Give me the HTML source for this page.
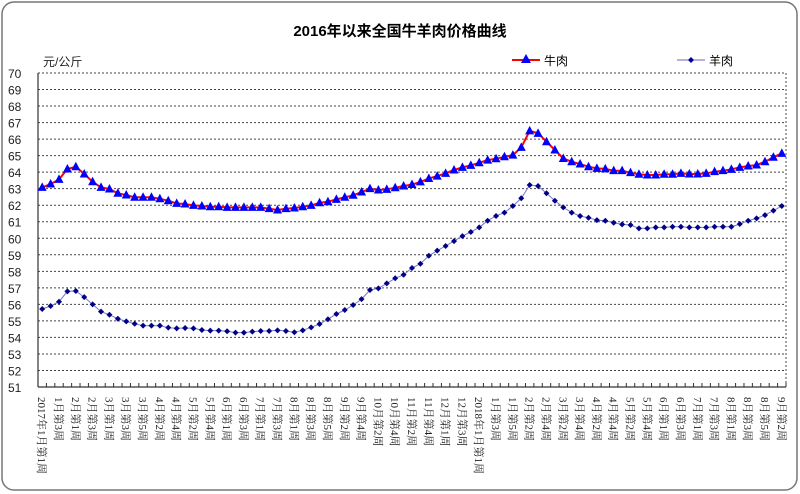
<!DOCTYPE html>
<html><head><meta charset="utf-8">
<style>
html,body{margin:0;padding:0;background:#fff;}
svg{display:block;font-family:"Liberation Sans","Noto Sans CJK SC",sans-serif;}
</style></head>
<body>
<svg id="chart" width="800" height="494" viewBox="0 0 800 494">
<rect x="2" y="2" width="795" height="488" rx="12" fill="#fff" stroke="#777" stroke-width="1.5"/>
<text x="400" y="36" text-anchor="middle" font-size="15" font-weight="bold" fill="#000">2016年以来全国牛羊肉价格曲线</text>
<text x="43" y="66" font-size="12" fill="#222">元/公斤</text>
<g>
<g>
<line x1="512" y1="60" x2="540" y2="60" stroke="#f00" stroke-width="2"/>
<polygon points="526,54 531,63 521,63" fill="#00f"/>
<text x="544" y="65" font-size="12" fill="#000">牛肉</text>
</g>
<g>
<line x1="677" y1="60" x2="705" y2="60" stroke="#66c" stroke-width="1"/>
<polygon points="691,57 694,60 691,63 688,60" fill="#009"/>
<text x="709" y="65" font-size="12" fill="#000">羊肉</text>
</g>
</g>
<g id="grid"></g>
<g id="axes"></g>
<g id="series"></g>
</svg>
<script>
const categories = ["2017年1月第1周","","1月第3周","","2月第1周","","2月第3周","","3月第1周","","3月第3周","","3月第5周","","4月第2周","","4月第4周","","5月第2周","","5月第4周","","6月第1周","","6月第3周","","7月第1周","","7月第3周","","8月第1周","","8月第3周","","8月第5周","","9月第2周","","9月第4周","","10月第2周","","10月第4周","","11月第2周","","11月第4周","","12月第1周","","12月第3周","","2018年1月第1周","","1月第3周","","1月第5周","","2月第2周","","2月第4周","","3月第2周","","3月第4周","","4月第2周","","4月第4周","","5月第2周","","5月第4周","","6月第1周","","6月第3周","","7月第1周","","7月第3周","","8月第1周","","8月第3周","","8月第5周","","9月第2周"];
const beef = [63.08,63.28,63.56,64.19,64.33,63.89,63.42,63.08,62.98,62.72,62.62,62.48,62.48,62.48,62.39,62.27,62.11,62.07,61.99,61.95,61.91,61.91,61.87,61.87,61.87,61.87,61.87,61.79,61.71,61.79,61.83,61.91,61.99,62.15,62.21,62.35,62.48,62.6,62.8,63.0,62.92,62.96,63.06,63.16,63.25,63.41,63.62,63.76,63.93,64.13,64.29,64.41,64.57,64.73,64.81,64.93,65.03,65.5,66.5,66.35,65.84,65.34,64.83,64.63,64.49,64.33,64.23,64.2,64.09,64.09,63.97,63.87,63.83,63.83,63.87,63.87,63.93,63.89,63.89,63.93,64.03,64.09,64.17,64.29,64.37,64.43,64.63,64.9,65.14];
const mutton = [55.72,55.9,56.16,56.79,56.81,56.44,56.0,55.56,55.37,55.13,54.97,54.83,54.71,54.71,54.71,54.59,54.55,54.57,54.55,54.45,54.41,54.41,54.37,54.29,54.29,54.35,54.39,54.39,54.43,54.39,54.31,54.43,54.61,54.81,55.1,55.42,55.66,55.96,56.32,56.87,56.97,57.27,57.58,57.79,58.2,58.46,58.94,59.25,59.53,59.83,60.13,60.38,60.66,61.06,61.35,61.55,61.95,62.42,63.22,63.16,62.72,62.27,61.87,61.55,61.35,61.24,61.1,61.06,60.94,60.84,60.8,60.6,60.6,60.66,60.66,60.7,60.7,60.66,60.66,60.66,60.7,60.7,60.7,60.86,61.06,61.2,61.4,61.67,61.95];
const yTicks = [51,52,53,54,55,56,57,58,59,60,61,62,63,64,65,66,67,68,69,70];

const NS = "http://www.w3.org/2000/svg";
const L = 38, R = 786, T = 73, B = 387, YMIN = 51, YMAX = 70;
const n = categories.length;
const step = (R - L) / n;
function xPos(i){ return L + step * (i + 0.5); }
function yPos(v){ return B - (v - YMIN) / (YMAX - YMIN) * (B - T); }
function mk(tag, attrs, parent){
  const e = document.createElementNS(NS, tag);
  for (const k in attrs) e.setAttribute(k, attrs[k]);
  parent.appendChild(e);
  return e;
}
const grid = document.getElementById('grid');
const axes = document.getElementById('axes');
const series = document.getElementById('series');

yTicks.forEach(v => {
  const y = yPos(v);
  if (v > YMIN) {
    const g = mk('line', {x1:L, x2:R, y1:y, y2:y, stroke:'#444', 'stroke-width':1, 'stroke-dasharray':'2,2'}, grid);
    
    
  }
  const t = mk('text', {x:8, y:y+5, 'font-size':12, fill:'#222'}, axes);
  t.textContent = v;
  
  
});
const rb = mk('line', {x1:R, x2:R, y1:T, y2:B, stroke:'#444', 'stroke-width':1, 'stroke-dasharray':'2,2'}, grid);



const ya = mk('line', {x1:L, x2:L, y1:T, y2:B, stroke:'#333', 'stroke-width':1.2}, axes);


const xa = mk('line', {x1:L, x2:R, y1:B, y2:B, stroke:'#333', 'stroke-width':1.2}, axes);



for (let i = 0; i <= n; i++) {
  const x = L + step * i;
  const tk = mk('line', {x1:x, x2:x, y1:B, y2:B-4, stroke:'#333', 'stroke-width':1}, axes);
  
  
}
categories.forEach((c, i) => {
  if (!c) return;
  const x = xPos(i) - 4;
  const t = mk('text', {x:0, y:0, 'font-size':11, fill:'#222', transform:'translate(' + x + ',' + (B + 10) + ') rotate(90)', 'font-family':'"Liberation Serif","Noto Serif CJK SC",serif'}, axes);
  t.textContent = c;
  
  
});

// mutton
const mp = mutton.map((v, i) => xPos(i).toFixed(1) + ',' + yPos(v).toFixed(1)).join(' ');
const ml = mk('polyline', {points:mp, fill:'none', stroke:'#7777cc', 'stroke-width':1}, series);


mutton.forEach((v, i) => {
  const x = xPos(i), y = yPos(v);
  const d = mk('polygon', {points:(x)+','+(y-3)+' '+(x+3)+','+y+' '+x+','+(y+3)+' '+(x-3)+','+y, fill:'#000088'}, series);
  
  
});
// beef
const bp = beef.map((v, i) => xPos(i).toFixed(1) + ',' + yPos(v).toFixed(1)).join(' ');
const bl = mk('polyline', {points:bp, fill:'none', stroke:'#ff0000', 'stroke-width':2}, series);


beef.forEach((v, i) => {
  const x = xPos(i), y = yPos(v);
  const tr = mk('polygon', {points:x+','+(y-5)+' '+(x+4.5)+','+(y+3.5)+' '+(x-4.5)+','+(y+3.5), fill:'#0000ff'}, series);
  
  
});
</script>
</body></html>
